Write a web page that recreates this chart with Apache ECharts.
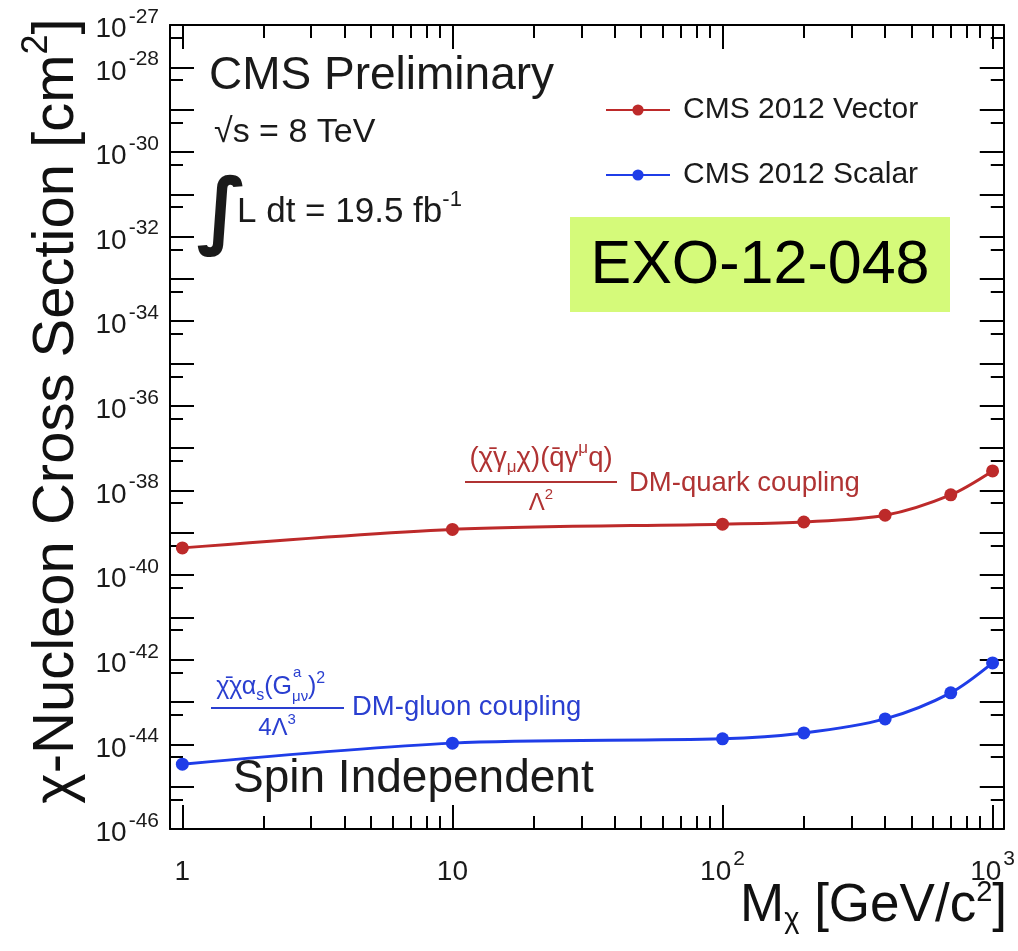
<!DOCTYPE html>
<html>
<head>
<meta charset="utf-8">
<script src="https://cdn.jsdelivr.net/npm/echarts@6/dist/echarts.min.js"></script>
<style>
html,body{margin:0;padding:0;background:#ffffff;}
#chart{width:1018px;height:951px;}
</style>
</head>
<body>
<div id="chart"></div>
<script>
// ---------------- data ----------------
const masses = [1, 10, 100, 200, 400, 700, 1000];                 // M_chi [GeV/c^2]
const vectorXS = [4.4e-40, 1.2e-39, 1.6e-39, 1.8e-39, 2.6e-39, 7.9e-39, 2.9e-38]; // cm^2
const scalarXS = [3.4e-45, 1.07e-44, 1.35e-44, 1.86e-44, 4.0e-44, 1.65e-43, 8.4e-43]; // cm^2
const seriesNames = ['CMS 2012 Vector', 'CMS 2012 Scalar'];

const xMajorTicks = [1, 10, 100, 1000];
const xTickLabels = ['1', '10', '10^2', '10^3'];
const xMinorTicks = [2, 3, 4, 5, 6, 7, 8, 9, 20, 30, 40, 50, 60, 70, 80, 90, 200, 300, 400, 500, 600, 700, 800, 900];

const yDecadeExps = [-46, -45, -44, -43, -42, -41, -40, -39, -38, -37, -36, -35, -34, -33, -32, -31, -30, -29, -28, -27];
const yHalfTickExps = [-46, -45, -44, -43, -42, -41, -40, -39, -38, -37, -36, -35, -34, -33, -32, -31, -30, -29, -28]; // ticks at 5 x 10^exp
const yLabelExps = [-46, -44, -42, -40, -38, -36, -34, -32, -30, -28, -27];
const yTickLabels = ['10^-46', '10^-44', '10^-42', '10^-40', '10^-38', '10^-36', '10^-34', '10^-32', '10^-30', '10^-28', '10^-27'];

// ---------------- setup ----------------
const FF = '"Liberation Sans", Arial, Helvetica, sans-serif';
const RED = '#bd2a2a';
const BLUE = '#1f3de8';
const X_MIN = 0.9, X_MAX = 1100;
// ECharts log ticks round to 10 decimals, so the cross section is plotted in units of 1e-46 cm^2
const Y_UNIT_EXP = -46;
const toY = v => v / Math.pow(10, Y_UNIT_EXP);
const Y_MIN = 1, Y_MAX = Math.pow(10, -27 - Y_UNIT_EXP);

const yMajorVals = yDecadeExps.map(e => Math.pow(10, e - Y_UNIT_EXP));
const yMinorVals = yHalfTickExps.map(e => 5 * Math.pow(10, e - Y_UNIT_EXP));
const yLabelVals = yLabelExps.map(e => Math.pow(10, e - Y_UNIT_EXP));

function toRich(s) {
  const i = s.indexOf('^');
  return i < 0 ? '{b|' + s + '}' : '{b|' + s.slice(0, i) + '}{s|' + s.slice(i + 1) + '}';
}
function nearestIdx(arr, v) {
  let best = 0;
  arr.forEach((t, i) => { if (Math.abs(Math.log10(t) - Math.log10(v)) < Math.abs(Math.log10(arr[best]) - Math.log10(v))) best = i; });
  return best;
}
const xFormatter = v => toRich(xTickLabels[nearestIdx(xMajorTicks, v)]);
const yFormatter = v => toRich(yTickLabels[nearestIdx(yLabelVals, v)]);

const tickStyle = { color: '#000', width: 2 };
const labelRich = {
  b: { fontSize: 28, lineHeight: 37, verticalAlign: 'bottom', fontFamily: FF, color: '#1a1a1a' },
  s: { fontSize: 21, lineHeight: 37, verticalAlign: 'top', fontFamily: FF, color: '#1a1a1a', padding: [0, 0, 0, 2] }
};

function xAxisCfg(pos, major) {
  return {
    type: 'log', logBase: 10, min: X_MIN, max: X_MAX, position: pos,
    splitLine: { show: false },
    axisLine: { show: major, onZero: false, lineStyle: { color: '#000', width: 2 } },
    axisTick: { show: true, inside: true, length: major ? 24 : 13, customValues: major ? xMajorTicks : xMinorTicks, lineStyle: tickStyle },
    axisLabel: (major && pos === 'bottom') ? {
      show: true, customValues: xMajorTicks, formatter: xFormatter, margin: 20,
      showMinLabel: true, showMaxLabel: true,
      fontSize: 28, fontFamily: FF, color: '#1a1a1a', rich: labelRich
    } : { show: false }
  };
}
function yAxisCfg(pos, major) {
  return {
    type: 'log', logBase: 10, min: Y_MIN, max: Y_MAX, position: pos,
    splitLine: { show: false },
    axisLine: { show: major, onZero: false, lineStyle: { color: '#000', width: 2 } },
    axisTick: { show: true, inside: true, length: major ? 24 : 13, customValues: major ? yMajorVals : yMinorVals, lineStyle: tickStyle },
    axisLabel: (major && pos === 'left') ? {
      show: true, customValues: yLabelVals, formatter: yFormatter, margin: 11,
      showMinLabel: true, showMaxLabel: true, hideOverlap: false,
      fontSize: 28, fontFamily: FF, color: '#1a1a1a', rich: labelRich
    } : { show: false }
  };
}

function richStyles(base, color, ratio) {
  const small = Math.round(base * (ratio || 0.62));
  return {
    sup: { fontSize: small, lineHeight: small, verticalAlign: 'top', fontFamily: FF, fill: color, color: color },
    sub: { fontSize: small, lineHeight: small, verticalAlign: 'bottom', fontFamily: FF, fill: color, color: color }
  };
}
function txt(x, y, text, size, color, align, extra, ratio, lhFactor) {
  return Object.assign({
    type: 'text', x: x, y: y, z: 20,
    style: {
      text: text, fontSize: size, fontFamily: FF, fill: color,
      align: align || 'left', textAlign: align || 'left',
      verticalAlign: 'middle', textVerticalAlign: 'middle',
      lineHeight: Math.round(size * (lhFactor || 1.3)),
      rich: richStyles(size, color, ratio)
    }
  }, extra || {});
}

const RED_TXT = '#b03333';
const BLUE_TXT = '#2a3fd0';

const option = {
  animation: false,
  backgroundColor: '#ffffff',
  grid: { left: 170, right: 9, top: 25, bottom: 122, containLabel: false },
  xAxis: [xAxisCfg('bottom', true), xAxisCfg('bottom', false), xAxisCfg('top', true), xAxisCfg('top', false)],
  yAxis: [yAxisCfg('left', true), yAxisCfg('left', false), yAxisCfg('right', true), yAxisCfg('right', false)],
  legend: {
    orient: 'vertical', left: 600, top: 87, itemWidth: 64, itemHeight: 14, itemGap: 29,
    data: seriesNames,
    textStyle: { fontSize: 30, lineHeight: 36, color: '#1a1a1a', fontFamily: FF, padding: [0, 0, 0, 8] }
  },
  series: [
    {
      name: seriesNames[0], type: 'line', xAxisIndex: 0, yAxisIndex: 0,
      data: masses.map((m, i) => [m, toY(vectorXS[i])]),
      smooth: 0.3, symbol: 'circle', symbolSize: 13, z: 5,
      lineStyle: { color: RED, width: 3 }, itemStyle: { color: RED }
    },
    {
      name: seriesNames[1], type: 'line', xAxisIndex: 0, yAxisIndex: 0,
      data: masses.map((m, i) => [m, toY(scalarXS[i])]),
      smooth: 0.3, symbol: 'circle', symbolSize: 13, z: 5,
      lineStyle: { color: BLUE, width: 3 }, itemStyle: { color: BLUE }
    }
  ],
  graphic: [
    txt(209, 76, 'CMS Preliminary', 46, '#1a1a1a'),
    txt(214, 133, '\u221As = 8 TeV', 34, '#1a1a1a'),
    { type: 'text', x: 222, y: 216, z: 20, style: { text: '\u222B', fontSize: 84, fontWeight: 'bold', fontFamily: '"DejaVu Sans", sans-serif', fill: '#1a1a1a', align: 'center', textAlign: 'center', verticalAlign: 'middle', textVerticalAlign: 'middle' } },
    txt(237, 212, 'L dt = 19.5 fb{sup|-1}', 35, '#1a1a1a'),
    { type: 'rect', z: 15, shape: { x: 570, y: 217, width: 380, height: 95 }, style: { fill: '#d5fa7a' } },
    txt(760, 266, 'EXO-12-048', 61, '#000000', 'center'),
    // DM-quark annotation
    txt(541, 458, '(\u03C7\u0304\u03B3{sub|\u03BC}\u03C7)(q\u0304\u03B3{sup|\u03BC}q)', 27.5, RED_TXT, 'center'),
    { type: 'line', z: 20, shape: { x1: 465, y1: 482, x2: 617, y2: 482 }, style: { stroke: RED_TXT, lineWidth: 2 } },
    txt(541, 503, '\u039B{sup|2}', 24, RED_TXT, 'center'),
    txt(629, 483, 'DM-quark coupling', 27.5, RED_TXT),
    // DM-gluon annotation
    txt(292, 687, '\u03C7\u0304\u03C7\u03B1{sub|s}(G', 25, BLUE_TXT, 'right'),
    txt(293, 673, 'a', 15, BLUE_TXT),
    txt(292, 697, '\u03BC\u03BD', 15, BLUE_TXT),
    txt(308, 687, '){sup|2}', 25, BLUE_TXT),
    { type: 'line', z: 20, shape: { x1: 211, y1: 708, x2: 344, y2: 708 }, style: { stroke: BLUE_TXT, lineWidth: 2 } },
    txt(277, 728, '4\u039B{sup|3}', 24, BLUE_TXT, 'center'),
    txt(352, 707, 'DM-gluon coupling', 27.5, BLUE_TXT),
    txt(233, 779, 'Spin Independent', 46, '#1a1a1a'),
    // axis titles
    txt(57, 411, '\u03C7-Nucleon Cross Section [cm{sup|2}]', 58, '#111111', 'center', { rotation: Math.PI / 2 }),
    txt(1007, 906, 'M{sub|\u03C7} [GeV/c{sup|2}]', 53, '#111111', 'right', null, 0.55, 1.05)
  ]
};

const chart = echarts.init(document.getElementById('chart'));
chart.setOption(option);
</script>
</body>
</html>
